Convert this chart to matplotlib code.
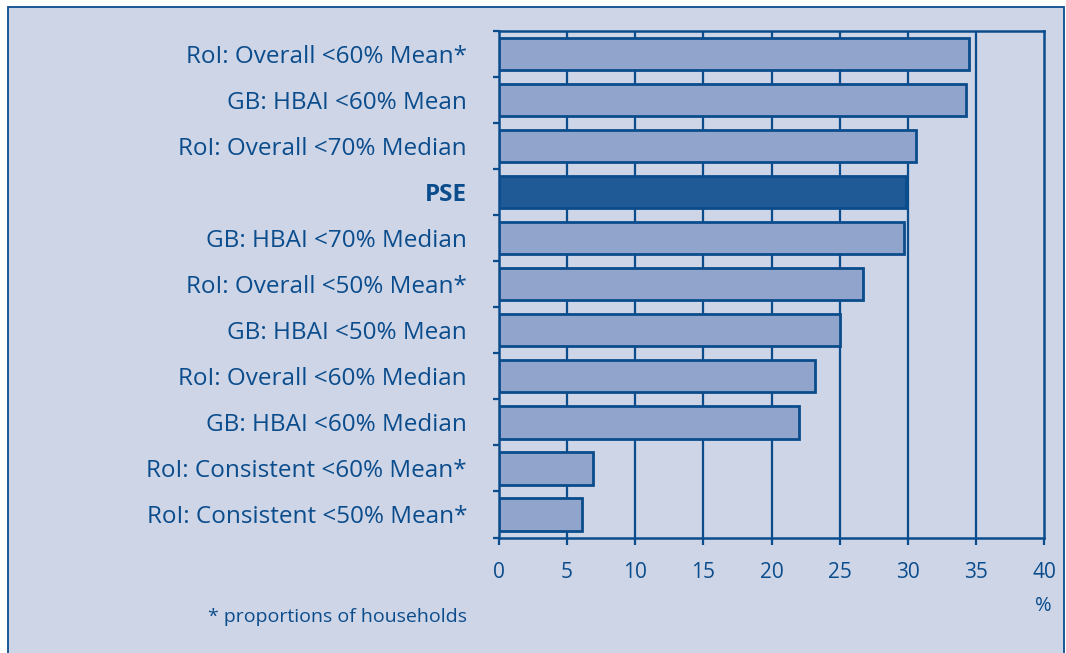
import numpy as np
import matplotlib
matplotlib.use("Agg")
import matplotlib.pyplot as plt
from matplotlib.patches import Rectangle

# Data (top to bottom as shown)
labels = [
    "RoI: Overall <60% Mean*",
    "GB: HBAI <60% Mean",
    "RoI: Overall <70% Median",
    "PSE",
    "GB: HBAI <70% Median",
    "RoI: Overall <50% Mean*",
    "GB: HBAI <50% Mean",
    "RoI: Overall <60% Median",
    "GB: HBAI <60% Median",
    "RoI: Consistent <60% Mean*",
    "RoI: Consistent <50% Mean*",
]
values = [34.5, 34.3, 30.6, 29.9, 29.7, 26.7, 25.0, 23.2, 22.0, 6.9, 6.1]
x_ticks = [0, 5, 10, 15, 20, 25, 30, 35, 40]

bg = "#cdd5e6"
bar_light = "#91a5cc"
bar_dark = "#1f5a96"
navy = "#0b4c8c"

plt.rcParams["font.family"] = ["Open Sans", "DejaVu Sans"]

fig = plt.figure(figsize=(10.66, 6.53), dpi=100)
fig.patch.set_facecolor("white")

# outer panel with border
fig.patches.append(Rectangle((8 / 1066, -0.05), (1064 - 8) / 1066, 1 - 7 / 653 + 0.05,
                             transform=fig.transFigure, facecolor=bg,
                             edgecolor=navy, linewidth=1.3, zorder=0))

ax = fig.add_axes([499 / 1066, 1 - 537.5 / 653, (1044 - 499) / 1066, (537.5 - 31) / 653])
ax.set_zorder(2)
ax.set_facecolor(bg)

n = len(labels)
y = np.arange(n)[::-1]
colors = [bar_dark if l == "PSE" else bar_light for l in labels]
ax.barh(y, values, height=0.7, color=colors, edgecolor=navy, linewidth=2.0, zorder=3)

ax.set_xlim(0, 40)
ax.set_ylim(-0.5, n - 0.5)

# vertical gridlines
for t in x_ticks[1:-1]:
    ax.axvline(t, color=navy, linewidth=1.6, zorder=1)

ax.set_xticks(x_ticks)
ax.set_xticklabels([str(t) for t in x_ticks])
ax.set_yticks(y)
ax.set_yticklabels(labels)
ax.set_yticks(np.arange(n + 1) - 0.5, minor=True)

ax.tick_params(axis="x", direction="out", length=5, width=1.6, color=navy,
               labelcolor=navy, labelsize=15, pad=13)
ax.tick_params(axis="y", which="major", length=0, labelcolor=navy, labelsize=17.5, pad=23)
ax.tick_params(axis="y", which="minor", direction="out", length=4, width=1.6, color=navy)

for lab in ax.get_yticklabels():
    if lab.get_text() == "PSE":
        lab.set_fontweight("bold")

for s in ax.spines.values():
    s.set_color(navy)
    s.set_linewidth(1.8)

fig.text(1043 / 1066, 1 - 606 / 653, "%", color=navy, fontsize=14.5, ha="center", va="center")
fig.text(467 / 1066, 1 - 617 / 653, "* proportions of households", color=navy,
         fontsize=14, ha="right", va="center")

fig.savefig("out.png", dpi=100, facecolor=fig.get_facecolor())
